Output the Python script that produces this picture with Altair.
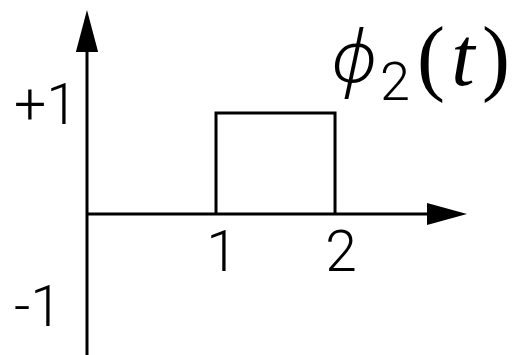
import altair as alt
import pandas as pd

# Basis function phi_2(t): a unit pulse between t = 1 and t = 2
pulse_t = [1, 1, 2, 2]
pulse_amp = [0, 1, 1, 0]

# Tick labels on the two axes
x_ticks = [1, 2]
x_tick_labels = ["1", "2"]
y_ticks = [1, -1]
y_tick_labels = ["+1", "-1"]

# Visible extent of the time / amplitude scales
T_MIN, T_MAX = -0.815, 3.487
A_MIN, A_MAX = -1.396, 2.119
AXIS_T = -0.084   # where the amplitude axis crosses the time axis
T_END = 2.80      # end of the time-axis shaft (arrow base)
A_END = 1.604     # end of the amplitude-axis shaft (arrow base)
T_HEAD = 2.941    # centre of the time-axis arrowhead
A_HEAD = 1.812    # centre of the amplitude-axis arrowhead

xs = alt.Scale(domain=[T_MIN, T_MAX], nice=False, zero=False)
ys = alt.Scale(domain=[A_MIN, A_MAX], nice=False, zero=False)


def X(field):
    return alt.X(field, type="quantitative", scale=xs, axis=None)


def Y(field):
    return alt.Y(field, type="quantitative", scale=ys, axis=None)


INK = "#000000"
LABEL_FONT = "Roboto"

pulse_df = pd.DataFrame({"t": pulse_t, "a": pulse_amp, "i": range(len(pulse_t))})
pulse = alt.Chart(pulse_df).mark_line(
    color=INK, strokeWidth=3, strokeJoin="miter", strokeCap="butt"
).encode(x=X("t"), y=Y("a"), order="i:Q")

v_axis = alt.Chart(pd.DataFrame({"t": [AXIS_T], "a0": [A_MIN], "a1": [A_END]})).mark_rule(
    color=INK, strokeWidth=3
).encode(x=X("t"), y=Y("a0"), y2="a1")

h_axis = alt.Chart(pd.DataFrame({"t0": [AXIS_T], "t1": [T_END], "a": [0]})).mark_rule(
    color=INK, strokeWidth=3
).encode(x=X("t0"), x2="t1", y=Y("a"))

up_head = alt.Chart(pd.DataFrame({"t": [AXIS_T], "a": [A_HEAD]})).mark_point(
    shape="M0,-1 L0.53,1 L-0.53,1 Z", size=1764, filled=True, color=INK, opacity=1, strokeWidth=0
).encode(x=X("t"), y=Y("a"))

right_head = alt.Chart(pd.DataFrame({"t": [T_HEAD], "a": [0]})).mark_point(
    shape="M1,0 L-1,-0.55 L-1,0.55 Z", size=1600, filled=True, color=INK, opacity=1, strokeWidth=0
).encode(x=X("t"), y=Y("a"))

y_lab_df = pd.DataFrame({"t": [AXIS_T] * len(y_ticks), "a": y_ticks, "lab": y_tick_labels})
y_labels = alt.Chart(y_lab_df).mark_text(
    font=LABEL_FONT, fontSize=57, fontWeight=300, align="left", baseline="middle",
    dx=-73, dy=-6, color=INK
).encode(x=X("t"), y=Y("a"), text="lab:N")

x_lab_df = pd.DataFrame({"t": x_ticks, "a": [0] * len(x_ticks), "lab": x_tick_labels})
x_labels = alt.Chart(x_lab_df).mark_text(
    font=LABEL_FONT, fontSize=57, fontWeight=300, align="center", baseline="alphabetic",
    dx=6, dy=57, color=INK
).encode(x=X("t"), y=Y("a"), text="lab:N")

# Title phi_2(t), set piece by piece around one anchor point
anchor = pd.DataFrame({"t": [2.143], "a": [1.277]})


def piece(txt, dx, dy=0, font="Liberation Serif", size=84, style="normal", weight=400):
    return alt.Chart(anchor).mark_text(
        text=txt, font=font, fontSize=size, fontStyle=style, fontWeight=weight,
        align="center", baseline="alphabetic", dx=dx, dy=dy, color=INK
    ).encode(x=X("t"), y=Y("a"))


title = alt.layer(
    piece("\u03d5", 2, dy=-3, font="Noto Sans", size=72, style="italic", weight=300),
    piece("2", 43, dy=15, font=LABEL_FONT, size=54, weight=300),
    piece("(", 79),
    piece("t", 111, style="italic"),
    piece(")", 144),
)

chart = alt.layer(
    pulse, v_axis, h_axis, up_head, right_head, y_labels, x_labels, title
).properties(
    width=512, height=355, padding=0, autosize="none", background="white"
).configure_view(stroke=None)

chart.save("out.html", embed_options={"renderer": "svg", "actions": False})
